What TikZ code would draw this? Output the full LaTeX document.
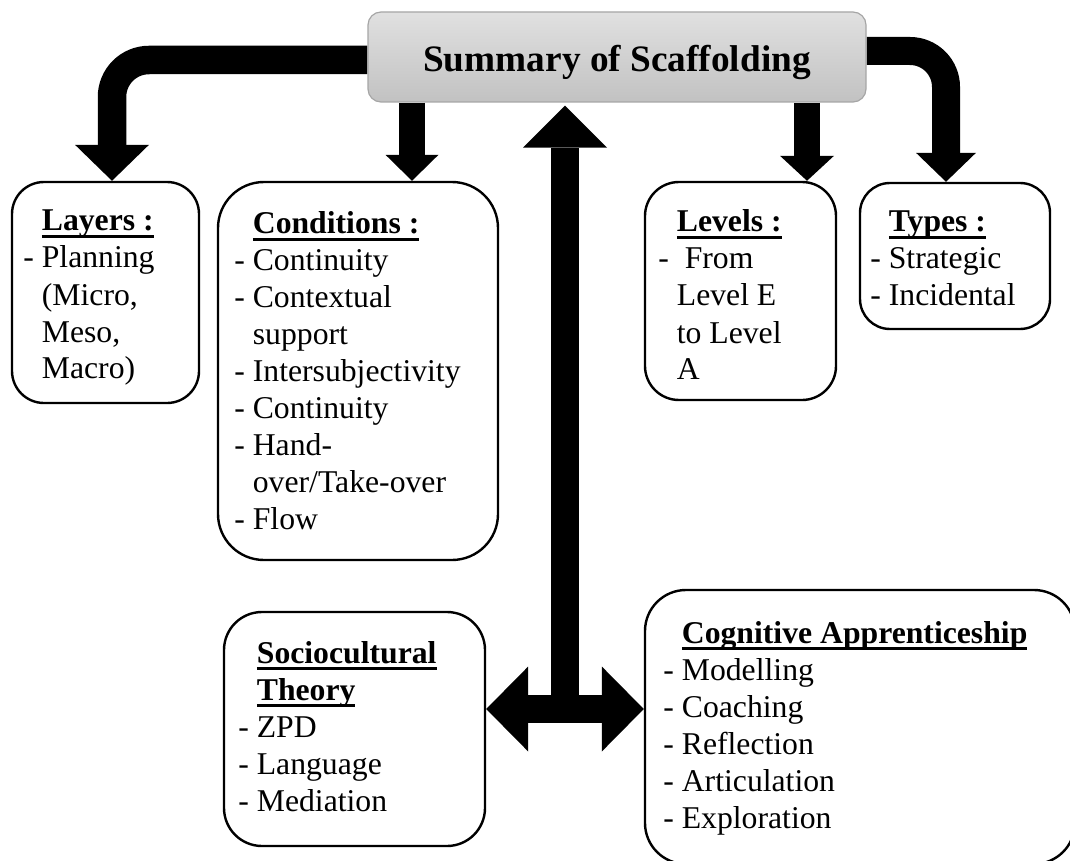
\documentclass[tikz,border=0pt]{standalone}
\usepackage{fontspec}
\setmainfont{Liberation Serif}
\usetikzlibrary{arrows.meta,calc,backgrounds}

% bold heading with a Word-like underline that crosses the descenders
\newcommand\ulhead[1]{\setbox0=\hbox{\bfseries #1}\rlap{\rule[-3.5pt]{\wd0}{1.4pt}}\box0}
\newcommand\dsh{\makebox[0.583em][l]{-}}
\newcommand\ind{\hspace*{0.583em}}
\newcommand\bodyfont{\fontsize{15.85}{18.5}\selectfont}

\begin{document}
\begin{tikzpicture}[x=0.5pt,y=-0.5pt,
  card/.style={draw=black, line width=1.2pt, fill=white, inner sep=0pt},
  cardtext/.style={inner sep=0pt, anchor=base west, font=\bodyfont},
  titlebox/.style={draw=gray!70, line width=0.6pt, top color=gray!24, bottom color=gray!48,
    rounded corners=6.5pt, minimum width=249pt, minimum height=45pt, inner sep=0pt,
    text height=15pt, text depth=0pt, font=\fontsize{18.65}{22}\selectfont\bfseries},
  blk/.style={draw=black, line width=#1},
]
\useasboundingbox (0,0) rectangle (1070,861);
\clip (0,0) rectangle (1070,861);

% central title
\node[titlebox] (title) at (617,57) {Summary of Scaffolding};

% outline cards
\node[card, rounded corners=16pt, minimum width=93.5pt, minimum height=110.5pt] (layers) at (105.5,292.5) {};
\node[card, rounded corners=23pt, minimum width=140pt, minimum height=189pt] (conditions) at (358,371) {};
\node[card, rounded corners=17pt, minimum width=95.5pt, minimum height=109pt] (levels) at (740.5,291) {};
\node[card, rounded corners=15pt, minimum width=95pt, minimum height=73pt] (types) at (955,256) {};
\node[card, rounded corners=19pt, minimum width=130.5pt, minimum height=117pt] (socio) at (354.5,729) {};
\node[card, rounded corners=20.5pt, minimum width=215pt, minimum height=137pt] (cognitive) at (860,727) {};

% card texts
\node[cardtext] (layersT) at (23,231) {\begin{tabular}[t]{@{}l@{}}
  \ind\ulhead{Layers :}\\ \dsh Planning\\ \ind(Micro,\\ \ind Meso,\\ \ind Macro)\end{tabular}};
\node[cardtext] (conditionsT) at (234,234) {\begin{tabular}[t]{@{}l@{}}
  \ind\ulhead{Conditions :}\\ \dsh Continuity\\ \dsh Contextual\\ \ind support\\
  \dsh Intersubjectivity\\ \dsh Continuity\\ \dsh Hand-\\ \ind over/Take-over\\ \dsh Flow\end{tabular}};
\node[cardtext] (levelsT) at (658,232) {\begin{tabular}[t]{@{}l@{}}
  \ind\ulhead{Levels :}\\ \dsh\ From\\ \ind Level E\\ \ind to Level\\ \ind A\end{tabular}};
\node[cardtext] (typesT) at (870,232) {\begin{tabular}[t]{@{}l@{}}
  \ind\ulhead{Types :}\\ \dsh Strategic\\ \dsh Incidental\end{tabular}};
\node[cardtext] (socioT) at (238,663) {\begin{tabular}[t]{@{}l@{}}
  \ind\ulhead{Sociocultural}\\ \ind\ulhead{Theory}\\ \dsh ZPD\\ \dsh Language\\ \dsh Mediation\end{tabular}};
\node[cardtext] (cognitiveT) at (663,643) {\begin{tabular}[t]{@{}l@{}}
  \ind\ulhead{Cognitive Apprenticeship}\\ \dsh Modelling\\ \dsh Coaching\\ \dsh Reflection\\
  \dsh Articulation\\ \dsh Exploration\end{tabular}};

% x positions of the block arrows
\coordinate (lx) at (112,0);
\coordinate (cx) at (412,0);
\coordinate (vx) at (807,0);
\coordinate (rx) at (946,0);
\coordinate (hub) at (565,709);

\begin{scope}[on background layer]
  \draw[blk=14.25pt, rounded corners=18.5pt, -{Triangle[width=37pt,length=18pt,line width=0pt]}]
    ([yshift=-1.5pt]title.west) -| (layers.north -| lx);
  \draw[blk=13pt, -{Triangle[width=26.5pt,length=13pt,line width=0pt]}]
    (title.south -| cx) -- (conditions.north -| cx);
  \draw[blk=13pt, -{Triangle[width=27pt,length=12.5pt,line width=0pt]}]
    (title.south -| vx) -- (levels.north -| vx);
  \draw[blk=14pt, rounded corners=18pt, -{Triangle[width=30pt,length=14.5pt,line width=0pt]}]
    ([yshift=3pt]title.east) -| (types.north -| rx);
  \draw[blk=14pt, shorten >=1.5pt, -{Triangle[width=42pt,length=21pt,line width=0pt]}]
    (hub) -- (title.south -| hub);
  \draw[blk=14pt, {Triangle[width=42.5pt,length=21pt,line width=0pt]}-{Triangle[width=42.5pt,length=21pt,line width=0pt]}]
    (socio.east |- hub) -- (cognitive.west |- hub);
\end{scope}
\end{tikzpicture}
\end{document}
